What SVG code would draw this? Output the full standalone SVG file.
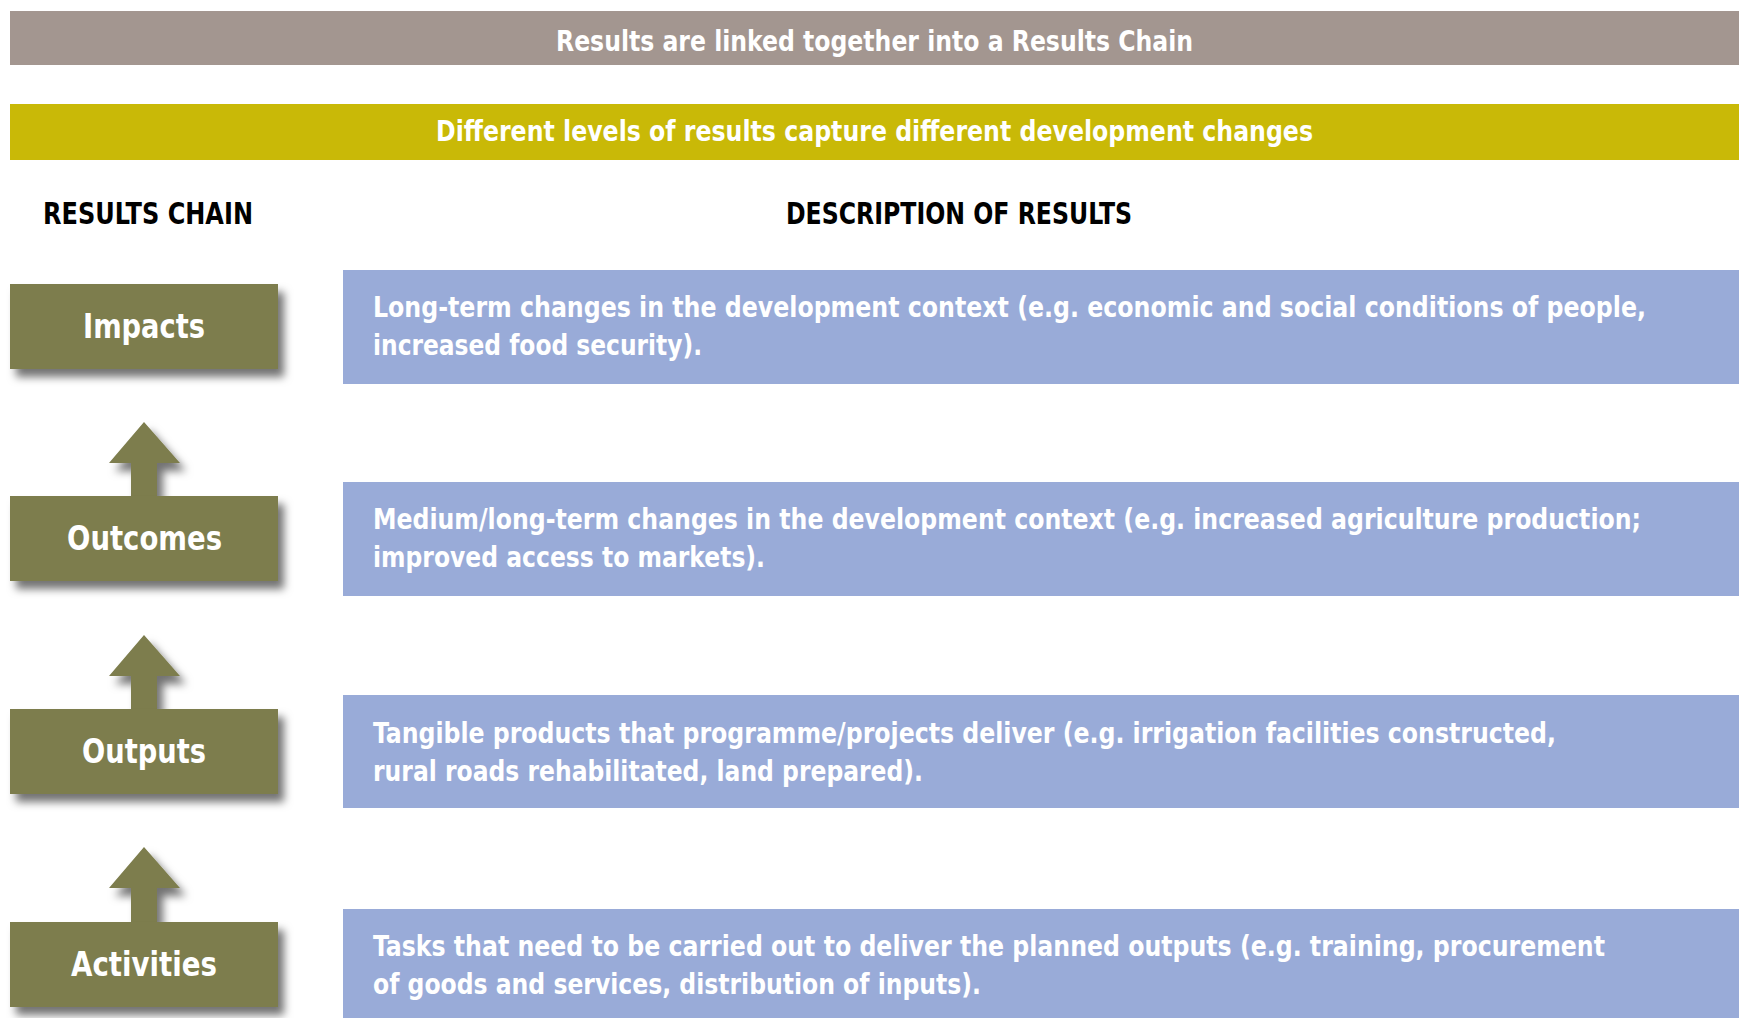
<svg xmlns="http://www.w3.org/2000/svg" width="1739" height="1018" viewBox="0 0 1739 1018">
<style>
.t{font-family:"Liberation Sans Narrow","DejaVu Sans Condensed","Open Sans","Liberation Sans",sans-serif;font-weight:bold;fill:#fff}
.hd{font-size:28px}
.col{font-size:30px;fill:#000}
.lbl{font-size:34px}
.desc{font-size:28px}
.node{fill:#7d7d4d}
.blue{fill:#99abd8}
.arr{fill:#7d7d4d}
</style>
<defs>
<filter id="sh" x="-20%" y="-30%" width="150%" height="180%">
<feDropShadow dx="6" dy="8" stdDeviation="4" flood-color="#000" flood-opacity="0.55"/>
</filter>
</defs>
<rect width="1739" height="1018" fill="#fff"/>
<g id="banner-top">
<rect x="10" y="11" width="1729" height="54" fill="#a39690"/>
<text class="t hd" x="556" y="51" textLength="637" lengthAdjust="spacingAndGlyphs">Results are linked together into a Results Chain</text>
</g>
<g id="banner-levels">
<rect x="10" y="104" width="1729" height="56" fill="#c9b907"/>
<text class="t hd" x="436" y="141" textLength="877" lengthAdjust="spacingAndGlyphs">Different levels of results capture different development changes</text>
</g>
<g id="col-headers">
<text class="t col" x="43" y="224" textLength="210" lengthAdjust="spacingAndGlyphs">RESULTS CHAIN</text>
<text class="t col" x="786" y="224" textLength="346" lengthAdjust="spacingAndGlyphs">DESCRIPTION OF RESULTS</text>
</g>
<g id="connectors">
<polygon class="arr" filter="url(#sh)" points="144,422 180,463 157,463 157,497 131,497 131,463 109,463"/>
<polygon class="arr" filter="url(#sh)" points="144,635 180,676 157,676 157,710 131,710 131,676 109,676"/>
<polygon class="arr" filter="url(#sh)" points="144,847 180,888 157,888 157,923 131,923 131,888 109,888"/>
</g>
<g id="node-impacts">
<rect class="node" filter="url(#sh)" x="10" y="284" width="268" height="85"/>
<text class="t lbl" x="83" y="338" textLength="122" lengthAdjust="spacingAndGlyphs">Impacts</text>
</g>
<g id="node-outcomes">
<rect class="node" filter="url(#sh)" x="10" y="496" width="268" height="85"/>
<text class="t lbl" x="67" y="550" textLength="155" lengthAdjust="spacingAndGlyphs">Outcomes</text>
</g>
<g id="node-outputs">
<rect class="node" filter="url(#sh)" x="10" y="709" width="268" height="85"/>
<text class="t lbl" x="82" y="763" textLength="124" lengthAdjust="spacingAndGlyphs">Outputs</text>
</g>
<g id="node-activities">
<rect class="node" filter="url(#sh)" x="10" y="922" width="268" height="85"/>
<text class="t lbl" x="71" y="976" textLength="146" lengthAdjust="spacingAndGlyphs">Activities</text>
</g>
<g id="desc-impacts">
<rect class="blue" x="343" y="270" width="1396" height="114"/>
<text class="t desc" x="373" y="317" textLength="1273" lengthAdjust="spacingAndGlyphs">Long-term changes in the development context (e.g. economic and social conditions of people,</text>
<text class="t desc" x="373" y="355" textLength="329" lengthAdjust="spacingAndGlyphs">increased food security).</text>
</g>
<g id="desc-outcomes">
<rect class="blue" x="343" y="482" width="1396" height="114"/>
<text class="t desc" x="373" y="529" textLength="1268" lengthAdjust="spacingAndGlyphs">Medium/long-term changes in the development context (e.g. increased agriculture production;</text>
<text class="t desc" x="373" y="567" textLength="392" lengthAdjust="spacingAndGlyphs">improved access to markets).</text>
</g>
<g id="desc-outputs">
<rect class="blue" x="343" y="695" width="1396" height="113"/>
<text class="t desc" x="373" y="743" textLength="1183" lengthAdjust="spacingAndGlyphs">Tangible products that programme/projects deliver (e.g. irrigation facilities constructed,</text>
<text class="t desc" x="373" y="781" textLength="550" lengthAdjust="spacingAndGlyphs">rural roads rehabilitated, land prepared).</text>
</g>
<g id="desc-activities">
<rect class="blue" x="343" y="909" width="1396" height="109"/>
<text class="t desc" x="373" y="956" textLength="1232" lengthAdjust="spacingAndGlyphs">Tasks that need to be carried out to deliver the planned outputs (e.g. training, procurement</text>
<text class="t desc" x="373" y="994" textLength="608" lengthAdjust="spacingAndGlyphs">of goods and services, distribution of inputs).</text>
</g>
</svg>
